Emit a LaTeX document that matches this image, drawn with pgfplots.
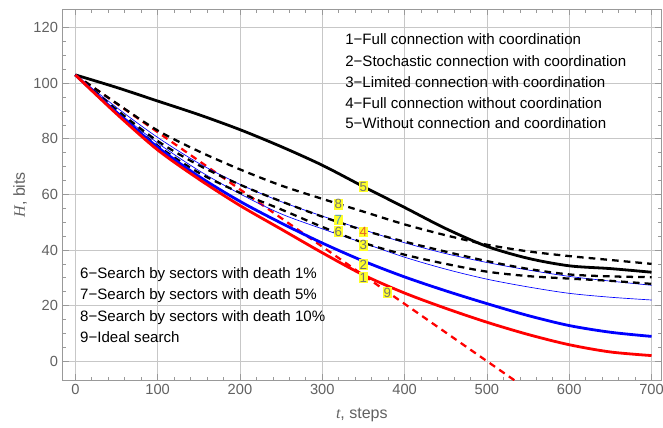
\documentclass[border=0pt]{standalone}
\usepackage{fontspec}
\setmainfont{Liberation Sans}
\newfontfamily\timesfont{Liberation Serif}
\usepackage{pgfplots}
\pgfplotsset{compat=1.18}
\definecolor{framegray}{gray}{0.6}
\definecolor{gridgray}{gray}{0.78}
\definecolor{ticklab}{gray}{0.38}
\definecolor{lblyellow}{RGB}{255,255,40}
\definecolor{lbltext}{gray}{0.45}
\begin{document}
\begin{tikzpicture}
\path[use as bounding box] (-47pt,-35.25pt) rectangle (450.2pt,285pt);
\begin{axis}[
  scale only axis, width=448.7pt, height=278pt,
  xmin=-15.4, xmax=711.5, ymin=-6.8, ymax=126.6,
  xtick={0,100,...,700}, ytick={0,20,...,120},
  minor x tick num=4, minor y tick num=3,
  tick align=inside, major tick length=4.5pt, minor tick length=2.5pt,
  grid=major, major grid style={gridgray, line width=0.6pt},
  axis line style={framegray, line width=0.7pt},
  every tick/.style={framegray, line width=0.5pt},
  tick label style={font=\fontsize{11}{13}\selectfont, text=ticklab},
  /pgf/number format/assume math mode=true,
  xlabel={{\timesfont\itshape t}, steps},
  ylabel={{\timesfont\itshape H}, bits},
  label style={font=\fontsize{12}{14}\selectfont, text=ticklab},
  xlabel style={at={(axis description cs:0.5,-0.0944)}, anchor=center},
  ylabel style={at={(axis description cs:-0.0713,0.5)}, anchor=center},
  clip=true,
]
% 9 ideal search
\addplot[red, line width=1.7pt, dash pattern=on 5pt off 3.8pt] coordinates {(0,103) (500,0) (545,-9.27)};
% thin blue lines
\addplot[blue, line width=0.5pt, smooth] coordinates {(0,103) (50,91.3) (100,80.5) (150,71.2) (200,63.6) (250,57.4) (300,52.2) (350,47.3) (400,42.6) (450,38.7) (500,35.5) (550,32.8) (600,30.5) (650,28.8) (700,27.3)};
\addplot[blue, line width=0.5pt, smooth] coordinates {(0,103) (50,90) (100,78.5) (150,68.6) (200,60.2) (250,53) (300,47.6) (350,42.5) (400,37.4) (450,33.1) (500,29.5) (550,26.7) (600,24.4) (650,23) (700,22)};
% black dashed lines
\addplot[black, line width=1.7pt, dash pattern=on 5pt off 3.8pt, smooth] coordinates {(0,103) (50,92.8) (100,83) (150,75.5) (200,69) (250,63.2) (300,58.4) (350,53.8) (400,49.2) (450,45.3) (500,41.9) (550,39.5) (600,37.8) (650,36.4) (700,35)};
\addplot[black, line width=1.7pt, dash pattern=on 5pt off 3.8pt, smooth] coordinates {(0,103) (50,90.5) (100,79.2) (150,70.5) (200,63.5) (250,57.5) (300,52) (350,47.1) (400,43) (450,39.4) (500,36) (550,33.2) (600,31.2) (650,30.5) (700,30.2)};
\addplot[black, line width=1.7pt, dash pattern=on 5pt off 3.8pt, smooth] coordinates {(0,103) (50,89.6) (100,77.5) (150,67.8) (200,60.6) (250,54.6) (300,48.3) (350,42.6) (400,38.3) (450,35) (500,32.2) (550,30.6) (600,29.7) (650,28.9) (700,27.8)};
% 5 black solid
\addplot[black, line width=2.1pt, smooth] coordinates {(0,103) (50,98.5) (100,93.6) (150,88.7) (200,83.3) (250,77.2) (300,70.5) (350,62.8) (400,55.3) (450,47.7) (500,41.3) (550,37) (600,34.3) (650,33.3) (700,32)};
% 2 blue thick
\addplot[blue, line width=2.1pt, smooth] coordinates {(0,103) (50,89.5) (100,77) (150,66.5) (200,57.5) (250,49.7) (300,42.5) (350,36) (400,30.3) (450,25.3) (500,20.7) (550,16.4) (600,12.8) (650,10.4) (700,8.9)};
% 1 red solid
\addplot[red, line width=2.1pt, smooth] coordinates {(0,103) (50,89) (100,76) (150,65.5) (200,56) (250,47.5) (300,39) (350,31) (400,24.5) (450,19) (500,14) (550,9.6) (600,5.9) (650,3.3) (700,2)};
% curve labels
\begin{scope}[every node/.style={fill=lblyellow, inner sep=0.5pt, font=\fontsize{10}{11}\selectfont, text=lbltext}]
\node at (axis cs:350,62.8) {5};
\node at (axis cs:319.5,56.4) {8};
\node[text={rgb,255:red,80;green,150;blue,195}] at (axis cs:319.5,50.8) {7};
\node at (axis cs:319.5,46.6) {6};
\node[text={rgb,255:red,230;green,100;blue,40}] at (axis cs:350,46.4) {4};
\node at (axis cs:350,41.7) {3};
\node at (axis cs:350,34.8) {2};
\node at (axis cs:350,30.1) {1};
\node at (axis cs:379,24.6) {9};
\end{scope}
% legend texts
\begin{scope}[every node/.style={anchor=base west, inner sep=0pt, font=\fontsize{11.3}{13}\selectfont}]
\node at (axis cs:327.6,113.85) {1−Full connection with coordination};
\node at (axis cs:327.6,106.04) {2−Stochastic connection with coordination};
\node at (axis cs:327.6,98.6) {3−Limited connection with coordination};
\node at (axis cs:327.6,91.04) {4−Full connection without coordination};
\node at (axis cs:327.6,83.6) {5−Without connection and coordination};
\node at (axis cs:5.6,29.9) {6−Search by sectors with death 1\%};
\node at (axis cs:5.6,22.1) {7−Search by sectors with death 5\%};
\node at (axis cs:5.6,14.1) {8−Search by sectors with death 10\%};
\node at (axis cs:5.6,6.65) {9−Ideal search};
\end{scope}
\end{axis}
\end{tikzpicture}
\end{document}
